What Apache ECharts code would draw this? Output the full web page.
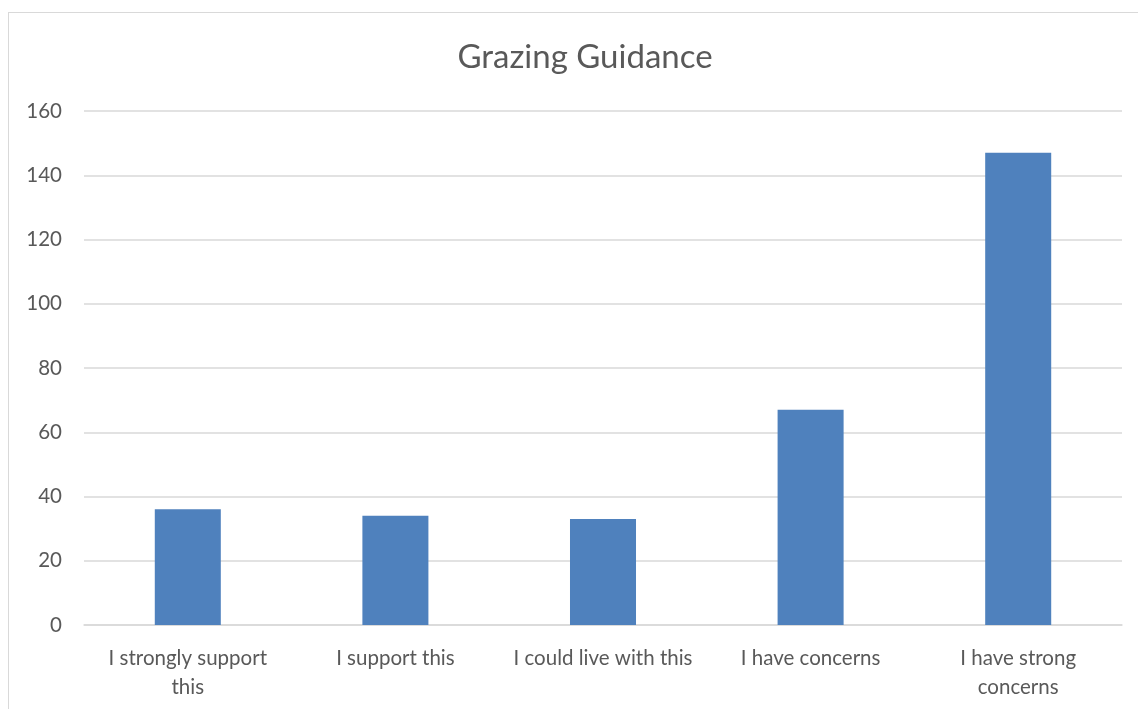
<!DOCTYPE html>
<html>
<head>
<meta charset="utf-8">
<script src="https://cdn.jsdelivr.net/npm/echarts@6/dist/echarts.min.js"></script>
<style>
  html, body { margin: 0; padding: 0; background: #fff; }
  #frame { position: absolute; left: 8px; top: 12px; width: 1200px; height: 800px; border: 1px solid #d9d9d9; box-sizing: border-box; }
  #chart { position: absolute; left: 0; top: 0; width: 1138px; height: 709px; }
</style>
</head>
<body>
<div id="frame"></div>
<div id="chart"></div>
<script>
// categories and counts
var categories = ['I strongly support\nthis', 'I support this', 'I could live with this', 'I have concerns', 'I have strong\nconcerns']
var counts = [36, 34, 33, 67, 147]
var yTicks = { min: 0, max: 160, interval: 20 }

var myChart = echarts.init(document.getElementById('chart'))
var option = {
    title: {
        text: 'Grazing Guidance',
        left: 580,
        top: 36,
        textAlign: 'center',
        textStyle: { fontFamily: 'Lato', fontSize: 33, fontWeight: 'normal', color: '#595959' }
    },
    grid: { left: 84, right: 16, top: 111, bottom: 84 },
    xAxis: {
        type: 'category',
        data: categories,
        axisLine: { lineStyle: { color: '#d9d9d9', width: 1.5 } },
        axisTick: { show: false },
        axisLabel: {
            interval: 0,
            margin: 19,
            lineHeight: 29,
            fontFamily: 'Lato',
            fontSize: 20.5,
            color: '#595959'
        }
    },
    yAxis: {
        type: 'value',
        min: yTicks.min,
        max: yTicks.max,
        interval: yTicks.interval,
        axisLine: { show: false },
        axisTick: { show: false },
        splitLine: { lineStyle: { color: '#d9d9d9', width: 1.5 } },
        axisLabel: {
            margin: 22,
            fontFamily: 'Lato',
            fontSize: 20.5,
            color: '#595959'
        }
    },
    series: [
        {
            type: 'bar',
            data: counts,
            barWidth: '31.8%',
            itemStyle: { color: '#4f81bd' },
            silent: true
        }
    ]
}
myChart.setOption(option)
</script>
</body>
</html>
